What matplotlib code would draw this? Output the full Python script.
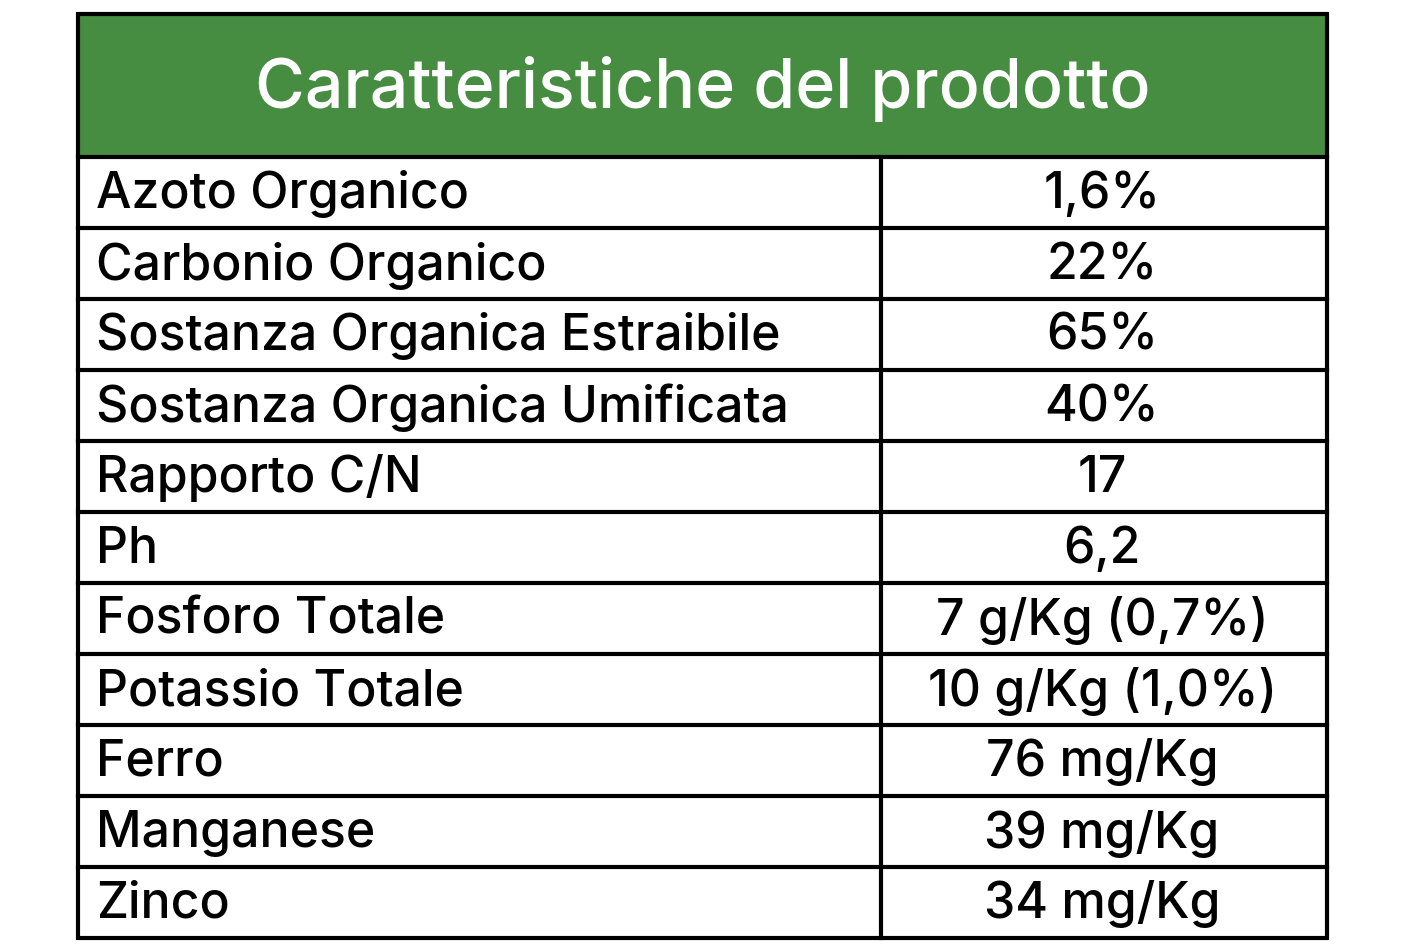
import matplotlib
matplotlib.use("Agg")
import matplotlib.pyplot as plt
from matplotlib.patches import Rectangle

title = "Caratteristiche del prodotto"
labels = ["Azoto Organico", "Carbonio Organico", "Sostanza Organica Estraibile",
          "Sostanza Organica Umificata", "Rapporto C/N", "Ph", "Fosforo Totale",
          "Potassio Totale", "Ferro", "Manganese", "Zinco"]
values = ["1,6%", "22%", "65%", "40%", "17", "6,2", "7 g/Kg (0,7%)",
          "10 g/Kg (1,0%)", "76 mg/Kg", "39 mg/Kg", "34 mg/Kg"]

W, H = 1404, 952
fig = plt.figure(figsize=(W/100, H/100), dpi=100)
ax = fig.add_axes([0, 0, 1, 1])
ax.set_xlim(0, W); ax.set_ylim(H, 0); ax.axis("off")

L, R, T, B = 78, 1327, 14, 938
HB = 157
CX = 881
green = "#468c41"
lw = 3
fam = ["Inter", "DejaVu Sans"]

ax.add_patch(Rectangle((L, T), R-L, HB-T, facecolor=green, edgecolor="none"))
ax.text((L+R)/2, (T+HB)/2 + 4, title, color="white", fontsize=49, family=fam,
        weight="medium", ha="center", va="center")
n = len(labels)
rh = (B-HB)/n
for i, (lab, val) in enumerate(zip(labels, values)):
    y0 = HB + i*rh
    yc = y0 + rh/2
    ax.text(96, yc+2, lab, fontsize=36, family=fam, weight="medium",
            ha="left", va="center", color="black")
    ax.text((CX+R)/2 - 2, yc+2, val, fontsize=36, family=fam, weight="medium",
            ha="center", va="center", color="black")
    if i > 0:
        ax.plot([L, R], [y0, y0], color="black", lw=lw)
ax.plot([L, R], [HB, HB], color="black", lw=lw)
ax.plot([CX, CX], [HB, B], color="black", lw=lw)
ax.add_patch(Rectangle((L, T), R-L, B-T, facecolor="none", edgecolor="black", lw=lw))
fig.savefig("out.png", dpi=100, facecolor="white")
